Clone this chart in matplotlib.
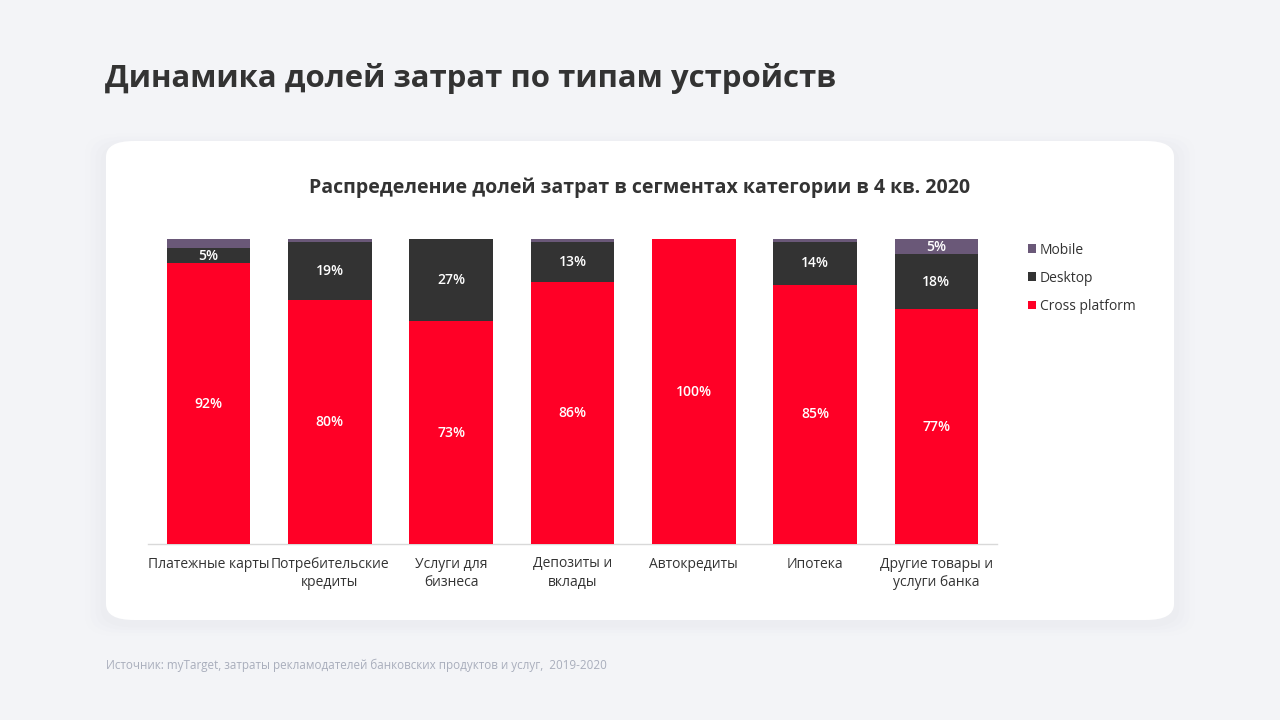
import numpy as np
import matplotlib.pyplot as plt
from matplotlib.patches import FancyBboxPatch

plt.rcParams['font.family'] = ['Open Sans', 'DejaVu Sans']

# Data
categories = ["Платежные карты", "Потребительские\nкредиты", "Услуги для\nбизнеса",
              "Депозиты и\nвклады", "Автокредиты", "Ипотека", "Другие товары и\nуслуги банка"]
cross_platform = [92, 80, 73, 86, 100, 85, 77]
desktop = [5, 19, 27, 13, 0, 14, 18]
mobile = [3, 1, 0, 1, 0, 1, 5]

series = [("Cross platform", cross_platform, "#FF0026"),
          ("Desktop", desktop, "#333333"),
          ("Mobile", mobile, "#6A5878")]

fig = plt.figure(figsize=(12.8, 7.2), dpi=100)
fig.patch.set_facecolor("#F3F4F7")

# card with soft shadow
for i, a in enumerate([0.025, 0.02, 0.015, 0.01]):
    pad = 0.004 * (i + 1)
    sh = FancyBboxPatch((106 / 1280 - pad, 1 - 620 / 720 - pad - 0.006),
                        (1174 - 106) / 1280 + 2 * pad, (620 - 141) / 720 + 2 * pad,
                        boxstyle="round,pad=0,rounding_size=0.025",
                        transform=fig.transFigure, facecolor="#A0A6B8", alpha=a,
                        edgecolor="none", zorder=0)
    fig.patches.append(sh)
card = FancyBboxPatch((106 / 1280, 1 - 620 / 720), (1174 - 106) / 1280, (620 - 141) / 720,
                      boxstyle="round,pad=0,rounding_size=0.022",
                      transform=fig.transFigure, facecolor="white", edgecolor="none", zorder=1)
fig.patches.append(card)

fig.text(105 / 1280, 1 - 78 / 720, "Динамика долей затрат по типам устройств",
         fontsize=22.4, fontweight="bold", color="#333333", va="center", ha="left")
fig.text(640 / 1280, 1 - 188 / 720, "Распределение долей затрат в сегментах категории в 4 кв. 2020",
         fontsize=14, fontweight="bold", color="#333333", va="center", ha="center")
fig.text(106 / 1280, 1 - 665 / 720,
         "Источник: myTarget, затраты рекламодателей банковских продуктов и услуг,  2019-2020",
         fontsize=8.4, color="#A9AEBC", va="center", ha="left")

ax = fig.add_axes([148 / 1280, 1 - 544 / 720, (997 - 148) / 1280, (544 - 239) / 720])
ax.set_facecolor("none")
ax.set_zorder(2)

x = np.arange(len(categories))
bottom = np.zeros(len(categories))
for name, vals, color in series:
    vals = np.array(vals, dtype=float)
    ax.bar(x, vals, 0.69, bottom=bottom, color=color, label=name, zorder=3)
    for xi, b, v in zip(x, bottom, vals):
        if v >= 5:
            ax.text(xi, b + v / 2, f"{int(v)}%", ha="center", va="center",
                    color="white", fontsize=10, fontweight="semibold", zorder=4)
    bottom += vals

ax.set_xlim(-0.5, len(categories) - 0.5)
ax.set_ylim(0, 100)
ax.set_yticks([])
ax.set_xticks(x)
ax.set_xticklabels(categories, fontsize=10, color="#333333", linespacing=1.3)
ax.tick_params(axis="x", length=0, pad=9)
for s in ["top", "left", "right"]:
    ax.spines[s].set_visible(False)
ax.spines["bottom"].set_color("#D9D9D9")
ax.spines["bottom"].set_linewidth(1)

handles, labels = ax.get_legend_handles_labels()
leg = fig.legend(handles[::-1], labels[::-1], loc="upper left",
                 bbox_to_anchor=(1015 / 1280, 1 - 230 / 720), frameon=False,
                 fontsize=10, handlelength=0.6, handleheight=0.6, handletextpad=0.3,
                 labelspacing=0.95, labelcolor="#333333")
leg.set_zorder(5)

fig.savefig("out.png", dpi=100, facecolor=fig.get_facecolor())
